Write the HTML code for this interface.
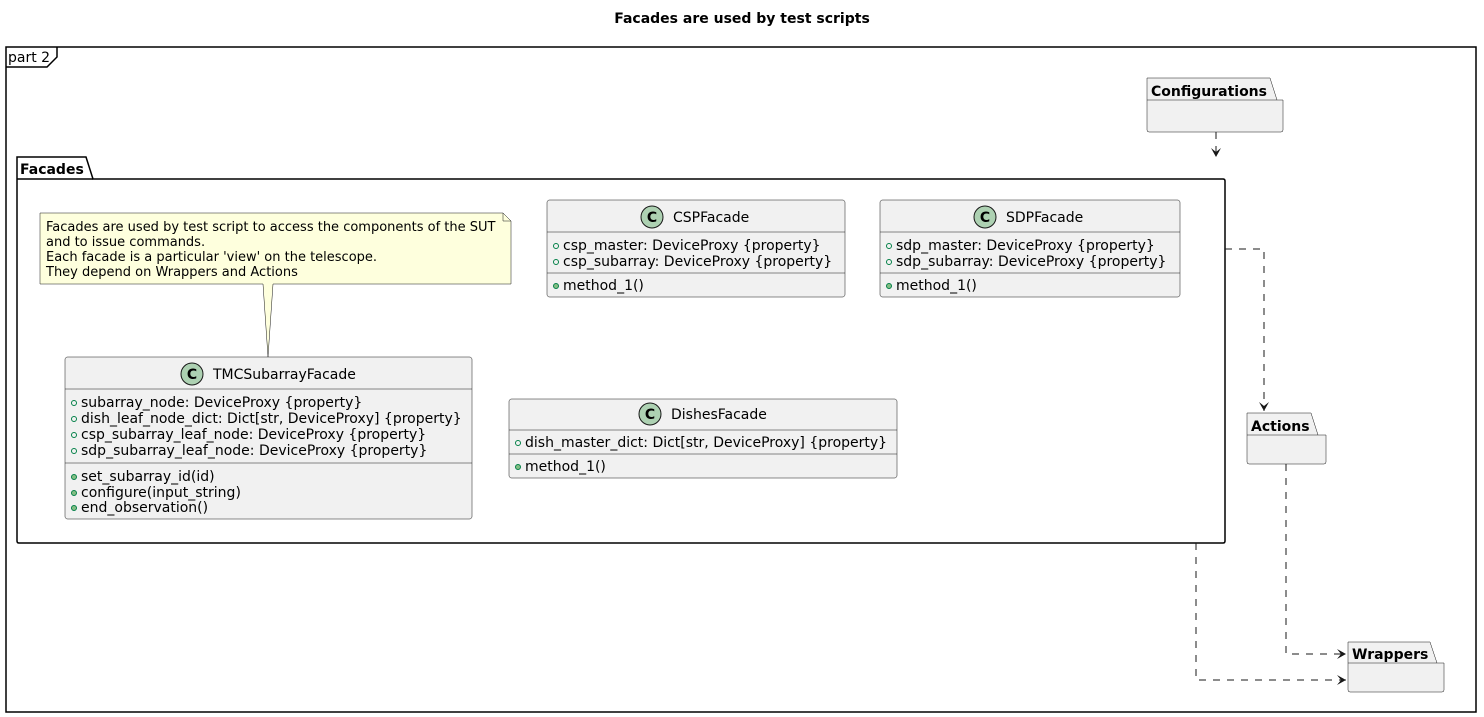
<!DOCTYPE html>
<html><head><meta charset="utf-8"><style>
html,body{margin:0;padding:0;background:#fff;}
svg{display:block;}
text{font-family:"DejaVu Sans","Liberation Sans",sans-serif;fill:#000;}
.b{font-weight:bold;}
.cls{fill:#F1F1F1;stroke:#181818;stroke-width:0.5;}
.ln{stroke:#181818;stroke-width:0.5;}
.pkg{fill:#F1F1F1;stroke:#181818;stroke-width:0.5;}
.dash{fill:none;stroke:#181818;stroke-width:1;stroke-dasharray:7,7;}
.ah{fill:#181818;}
</style></head><body>
<svg width="1484" height="717" viewBox="0 0 1484 717" xmlns="http://www.w3.org/2000/svg">
<text x="742" y="23" text-anchor="middle" class="b" font-size="14">Facades are used by test scripts</text>
<!-- frame -->
<rect x="6" y="47" width="1470" height="665" fill="none" stroke="#000" stroke-width="1.5"/>
<path d="M6,67 L47,67 L57,57 L57,47" fill="none" stroke="#000" stroke-width="1.5"/>
<text x="8" y="62" font-size="14">part 2</text>

<!-- Facades package -->
<path d="M17,179 L17,157 L86,157 L93,179 L1223,179 Q1225,179 1225,181 L1225,541 Q1225,543 1223,543 L19,543 Q17,543 17,541 Z" fill="#fff" stroke="#000" stroke-width="1.5"/>
<line x1="17" y1="179" x2="93" y2="179" stroke="#000" stroke-width="1.5"/>
<text x="20" y="174" class="b" font-size="14">Facades</text>

<!-- Configurations -->
<path d="M1147,100 L1147,78 L1270,78 L1277,100 L1283,100 L1283,130 Q1283,132 1281,132 L1149,132 Q1147,132 1147,130 Z" class="pkg"/>
<line x1="1147" y1="100" x2="1277" y2="100" class="ln"/>
<text x="1151" y="96" class="b" font-size="14">Configurations</text>
<!-- Actions -->
<path d="M1247,435 L1247,413 L1311,413 L1318,435 L1326,435 L1326,462 Q1326,464 1324,464 L1249,464 Q1247,464 1247,462 Z" class="pkg"/>
<line x1="1247" y1="435" x2="1318" y2="435" class="ln"/>
<text x="1251" y="431" class="b" font-size="14">Actions</text>
<!-- Wrappers -->
<path d="M1348,663 L1348,642 L1430,642 L1437,663 L1444,663 L1444,690 Q1444,692 1442,692 L1350,692 Q1348,692 1348,690 Z" class="pkg"/>
<line x1="1348" y1="663" x2="1437" y2="663" class="ln"/>
<text x="1352" y="659" class="b" font-size="14">Wrappers</text>

<!-- arrows -->
<path d="M1216,132 L1216,155" class="dash"/>
<path d="M1211,148 L1216,157 L1221,148 L1216,152 Z" class="ah"/>
<path d="M1225,249 L1264,249 L1264,411" class="dash"/>
<path d="M1259,402 L1264,411 L1269,402 L1264,406 Z" class="ah"/>
<path d="M1286,464 L1286,654 L1346,654" class="dash"/>
<path d="M1337,649 L1346,654 L1337,659 L1341,654 Z" class="ah"/>
<path d="M1196,543 L1196,680 L1346,680" class="dash"/>
<path d="M1337,675 L1346,680 L1337,685 L1341,680 Z" class="ah"/>

<!-- note -->
<path d="M40,213 L503,213 L511,221 L511,284 L273,284 L268,357 L263,284 L40,284 Z" fill="#FEFFDD" stroke="#181818" stroke-width="0.5"/>
<path d="M503,213 L503,221 L511,221" fill="none" stroke="#181818" stroke-width="0.5"/>
<text font-size="13"><tspan x="46" y="231">Facades are used by test script to access the components of the SUT</tspan><tspan x="46" y="246">and to issue commands.</tspan><tspan x="46" y="261">Each facade is a particular 'view' on the telescope.</tspan><tspan x="46" y="276">They depend on Wrappers and Actions</tspan></text>

<!-- CSPFacade -->
<rect x="547" y="200" width="298" height="97" rx="2.5" class="cls"/>
<line x1="547" y1="232" x2="845" y2="232" class="ln"/>
<line x1="547" y1="273" x2="845" y2="273" class="ln"/>
<circle cx="652" cy="217" r="11" fill="#ADD1B2" stroke="#181818" stroke-width="1"/>
<text x="652" y="222" text-anchor="middle" class="b" font-size="14">C</text>
<text x="673" y="222" font-size="14">CSPFacade</text>
<g font-size="14">
<circle cx="556" cy="246" r="2.5" fill="none" stroke="#038048" stroke-width="1"/>
<text x="563" y="250">csp_master: DeviceProxy {property}</text>
<circle cx="556" cy="262" r="2.5" fill="none" stroke="#038048" stroke-width="1"/>
<text x="563" y="266">csp_subarray: DeviceProxy {property}</text>
<circle cx="556" cy="286" r="2.5" fill="#84BE84" stroke="#038048" stroke-width="1"/>
<text x="563" y="290">method_1()</text>
</g>

<!-- SDPFacade -->
<rect x="880" y="200" width="300" height="97" rx="2.5" class="cls"/>
<line x1="880" y1="232" x2="1180" y2="232" class="ln"/>
<line x1="880" y1="273" x2="1180" y2="273" class="ln"/>
<circle cx="985" cy="217" r="11" fill="#ADD1B2" stroke="#181818" stroke-width="1"/>
<text x="985" y="222" text-anchor="middle" class="b" font-size="14">C</text>
<text x="1006" y="222" font-size="14">SDPFacade</text>
<g font-size="14">
<circle cx="889" cy="246" r="2.5" fill="none" stroke="#038048" stroke-width="1"/>
<text x="896" y="250">sdp_master: DeviceProxy {property}</text>
<circle cx="889" cy="262" r="2.5" fill="none" stroke="#038048" stroke-width="1"/>
<text x="896" y="266">sdp_subarray: DeviceProxy {property}</text>
<circle cx="889" cy="286" r="2.5" fill="#84BE84" stroke="#038048" stroke-width="1"/>
<text x="896" y="290">method_1()</text>
</g>

<!-- TMCSubarrayFacade -->
<rect x="65" y="357" width="407" height="162" rx="2.5" class="cls"/>
<line x1="65" y1="389" x2="472" y2="389" class="ln"/>
<line x1="65" y1="463" x2="472" y2="463" class="ln"/>
<circle cx="192" cy="374" r="11" fill="#ADD1B2" stroke="#181818" stroke-width="1"/>
<text x="192" y="379" text-anchor="middle" class="b" font-size="14">C</text>
<text x="213" y="379" font-size="14">TMCSubarrayFacade</text>
<g font-size="14">
<circle cx="74" cy="403" r="2.5" fill="none" stroke="#038048" stroke-width="1"/>
<text x="81" y="407">subarray_node: DeviceProxy {property}</text>
<circle cx="74" cy="419" r="2.5" fill="none" stroke="#038048" stroke-width="1"/>
<text x="81" y="423">dish_leaf_node_dict: Dict[str, DeviceProxy] {property}</text>
<circle cx="74" cy="435" r="2.5" fill="none" stroke="#038048" stroke-width="1"/>
<text x="81" y="439">csp_subarray_leaf_node: DeviceProxy {property}</text>
<circle cx="74" cy="451" r="2.5" fill="none" stroke="#038048" stroke-width="1"/>
<text x="81" y="455">sdp_subarray_leaf_node: DeviceProxy {property}</text>
<circle cx="74" cy="477" r="2.5" fill="#84BE84" stroke="#038048" stroke-width="1"/>
<text x="81" y="481">set_subarray_id(id)</text>
<circle cx="74" cy="493" r="2.5" fill="#84BE84" stroke="#038048" stroke-width="1"/>
<text x="81" y="497">configure(input_string)</text>
<circle cx="74" cy="508" r="2.5" fill="#84BE84" stroke="#038048" stroke-width="1"/>
<text x="81" y="512">end_observation()</text>
</g>

<!-- DishesFacade -->
<rect x="509" y="399" width="388" height="79" rx="2.5" class="cls"/>
<line x1="509" y1="430" x2="897" y2="430" class="ln"/>
<line x1="509" y1="454" x2="897" y2="454" class="ln"/>
<circle cx="650" cy="414" r="11" fill="#ADD1B2" stroke="#181818" stroke-width="1"/>
<text x="650" y="419" text-anchor="middle" class="b" font-size="14">C</text>
<text x="671" y="419" font-size="14">DishesFacade</text>
<g font-size="14">
<circle cx="518" cy="443" r="2.5" fill="none" stroke="#038048" stroke-width="1"/>
<text x="525" y="447">dish_master_dict: Dict[str, DeviceProxy] {property}</text>
<circle cx="518" cy="467" r="2.5" fill="#84BE84" stroke="#038048" stroke-width="1"/>
<text x="525" y="471">method_1()</text>
</g>
</svg>
</body></html>
